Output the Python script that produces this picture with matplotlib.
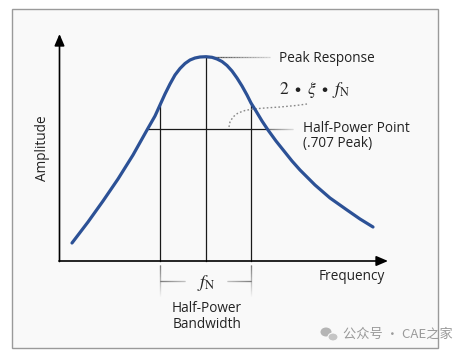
import numpy as np
import matplotlib
matplotlib.use("Agg")
import matplotlib.pyplot as plt
from matplotlib.patches import Rectangle, Ellipse
from matplotlib.collections import LineCollection

plt.rcParams['mathtext.fontset'] = 'stix'

# Response curve (frequency vs amplitude) (pixel-like units)
curve_x = [72, 88, 103, 118, 133, 147, 155, 160, 165, 170, 175, 180, 185, 190, 195, 200, 206,
           212, 217, 222, 227, 232, 237, 242, 247, 251, 256, 262, 268, 276, 284, 292, 300,
           315, 330, 347, 360, 373]
curve_y = [243, 222, 201, 179, 155, 130, 116, 105, 94, 84, 75, 68.5, 63.5, 60, 58, 57, 56.7,
           57.3, 59, 61.5, 65.5, 71, 78, 86, 95, 103, 111, 121, 130, 141, 151, 161, 170,
           185, 198, 210, 219, 227]

# Dotted leader from 2*xi*fN label
dot_x = [229, 230, 233, 238, 245, 253, 265, 280, 296, 307]
dot_y = [127, 122, 117, 113, 110.5, 109, 108, 107, 105.5, 104]

# Key markers
f_low, f_n, f_high = 160, 206, 251
peak_y, half_y = 57, 129
half_left, half_right = 147, 267
axis_x0, axis_y0 = 59.5, 261
x_tip, y_tip = 388, 34

fig = plt.figure(figsize=(4.68, 3.54), dpi=100)
ax = fig.add_axes([0, 0, 1, 1])
ax.set_xlim(0, 468)
ax.set_ylim(354, 0)
ax.axis('off')

ax.add_patch(Rectangle((12, 9), 426, 339, facecolor='#f9f9f9', edgecolor='#9a9a9a', lw=1.0))


def fade_line(x0, y0, x1, y1, c0, c1, lw=1.0, n=40):
    xs = np.linspace(x0, x1, n + 1)
    ys = np.linspace(y0, y1, n + 1)
    segs = [[(xs[i], ys[i]), (xs[i + 1], ys[i + 1])] for i in range(n)]
    a = np.array(matplotlib.colors.to_rgba(c0))
    b = np.array(matplotlib.colors.to_rgba(c1))
    cols = [a + (b - a) * (i / (n - 1)) for i in range(n)]
    ax.add_collection(LineCollection(segs, colors=cols, linewidths=lw, capstyle='butt'))


# axes with arrows
ax.annotate('', xy=(axis_x0, y_tip), xytext=(axis_x0, axis_y0 + 0.5),
            arrowprops=dict(arrowstyle='-|>,head_length=0.7,head_width=0.3', lw=1.2,
                            color='black', shrinkA=0, shrinkB=0))
ax.annotate('', xy=(x_tip, axis_y0), xytext=(axis_x0 - 0.5, axis_y0),
            arrowprops=dict(arrowstyle='-|>,head_length=0.7,head_width=0.3', lw=1.2,
                            color='black', shrinkA=0, shrinkB=0))

# vertical lines
ax.plot([f_low, f_low], [105, axis_y0], color='#1a1a1a', lw=0.9)
ax.plot([f_n, f_n], [peak_y, axis_y0], color='#1a1a1a', lw=0.9)
ax.plot([f_high, f_high], [103, axis_y0], color='#1a1a1a', lw=0.9)

# half-power horizontal line
ax.plot([half_left, half_right], [half_y, half_y], color='#1a1a1a', lw=0.9)
fade_line(half_right, half_y, 293, half_y, '#444444', '#d0d0d0', lw=0.9)

# peak leader
fade_line(f_n, peak_y, 270, peak_y, '#333333', '#d0d0d0', lw=0.9)

# dotted leader
ax.plot(dot_x, dot_y, color='#888888', lw=1.0, ls=(0, (1.2, 1.6)))

# curve
ax.plot(curve_x, curve_y, color='#2c5196', lw=2.3, solid_capstyle='round', solid_joinstyle='round')

# bandwidth bracket
fade_line(f_low, 265, f_low, 296, '#555555', '#f0f0f0', lw=0.9)
fade_line(f_high, 265, f_high, 296, '#555555', '#f0f0f0', lw=0.9)
fade_line(f_low, 281, 185, 281, '#555555', '#b0b0b0', lw=0.9)
fade_line(f_high, 281, 227, 281, '#555555', '#b0b0b0', lw=0.9)

txt = dict(family=['Open Sans', 'DejaVu Sans'], fontsize=9.8, color='#222222')
ax.text(42, 148, 'Amplitude', rotation=90, ha='center', va='center', **txt)
ax.text(279, 58, 'Peak Response', ha='left', va='center', **txt)
ax.text(303, 128, 'Half-Power Point', ha='left', va='center', **txt)
ax.text(303, 144, '(.707 Peak)', ha='left', va='center', **txt)
ax.text(319, 277, 'Frequency', ha='left', va='center', **txt)
ax.text(207, 309, 'Half-Power', ha='center', va='center', **txt)
ax.text(207, 325, 'Bandwidth', ha='center', va='center', **txt)

ax.text(279, 90, r'$2\ \bullet\ \xi\ \bullet\ f_{\mathrm{N}}$', ha='left', va='center',
        fontsize=12.5, color='#222222')
ax.text(206, 283, r'$f_{\mathrm{N}}$', ha='center', va='center', fontsize=13, color='#222222')

# watermark
ax.add_patch(Ellipse((326, 332), 11, 9, facecolor='#b5b5b5', edgecolor='none'))
ax.add_patch(Ellipse((333, 337), 10, 8, facecolor='#c5c5c5', edgecolor='#f9f9f9', lw=0.8))
ax.text(343, 334, '公众号 · CAE之家', ha='left', va='center',
        family=['Noto Sans CJK SC', 'DejaVu Sans'], fontsize=9.5, color='#9a9a9a')

fig.savefig('out.png', dpi=100)
